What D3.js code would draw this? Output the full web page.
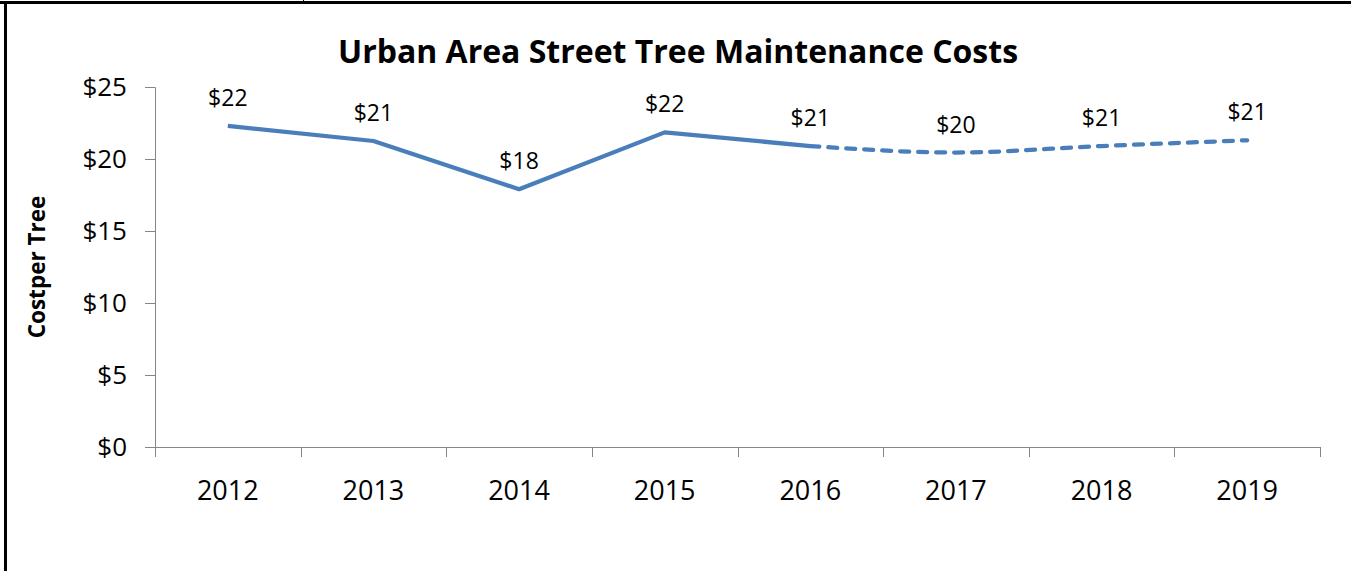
<!DOCTYPE html>
<html>
<head>
<meta charset="utf-8">
<script src="https://cdn.jsdelivr.net/npm/d3@7"></script>
<style>
  body { margin: 0; background: #fff; }
  svg { display: block; font-family: "Open Sans", "Noto Sans", sans-serif; }
</style>
</head>
<body>
<div id="chart"></div>
<script>
const years = ["2012", "2013", "2014", "2015", "2016", "2017", "2018", "2019"];
const costs = [22.3, 21.25, 17.9, 21.85, 20.9, 20.45, 20.9, 21.3];
const costLabels = ["$22", "$21", "$18", "$22", "$21", "$20", "$21", "$21"];
const yTicks = [0, 5, 10, 15, 20, 25];
const actualCount = 5; // 2012-2016 actual, rest projected

const width = 1351, height = 571;
const margin = {top: 87, right: 31, bottom: 124, left: 155};
const innerW = width - margin.left - margin.right;
const innerH = height - margin.top - margin.bottom;
const font = '"Open Sans", "Noto Sans", sans-serif';

const svg = d3.select("#chart").append("svg")
    .attr("width", width)
    .attr("height", height);

// frame lines of the surrounding document
svg.append("line").attr("x1", 0).attr("x2", width).attr("y1", 2.5).attr("y2", 2.5)
    .attr("stroke", "#000").attr("stroke-width", 3);
svg.append("line").attr("x1", 5.5).attr("x2", 5.5).attr("y1", 1).attr("y2", height)
    .attr("stroke", "#000").attr("stroke-width", 3);
svg.append("line").attr("x1", 303.5).attr("x2", 303.5).attr("y1", 0).attr("y2", 3)
    .attr("stroke", "#000").attr("stroke-width", 1);

const g = svg.append("g").attr("transform", `translate(${margin.left},${margin.top})`);

const x = d3.scaleBand().domain(years).range([0, innerW]);
const y = d3.scaleLinear().domain([0, 25]).range([innerH, 0]);

// y axis
const yAxis = d3.axisLeft(y).tickValues(yTicks).tickFormat(d => "$" + d).tickSizeOuter(0).tickSize(10).tickPadding(18);
const yg = g.append("g").call(yAxis).attr("font-family", font);
yg.select(".domain").attr("stroke", "#868686");
yg.selectAll(".tick line").attr("stroke", "#868686");
yg.selectAll(".tick text").attr("font-size", 26).attr("fill", "#000");

// x axis with ticks at category boundaries
const xg = g.append("g").attr("transform", `translate(0,${innerH})`);
xg.append("line").attr("x1", 0).attr("x2", innerW).attr("y1", 0.5).attr("y2", 0.5)
    .attr("stroke", "#868686");
const bounds = years.map(d => x(d)).concat([innerW]);
xg.selectAll("line.bnd").data(bounds).enter().append("line")
    .attr("class", "bnd")
    .attr("x1", d => Math.round(d) + 0.5).attr("x2", d => Math.round(d) + 0.5)
    .attr("y1", 0).attr("y2", 10)
    .attr("stroke", "#868686");
xg.selectAll("text").data(years).enter().append("text")
    .attr("x", d => x(d) + x.bandwidth() / 2)
    .attr("y", 53)
    .attr("text-anchor", "middle")
    .attr("font-size", 27)
    .text(d => d);

const pts = years.map((d, i) => ({year: d, value: costs[i], label: costLabels[i]}));
const cx = d => x(d.year) + x.bandwidth() / 2;

const solid = d3.line().x(cx).y(d => y(d.value));
const dashed = d3.line().x(cx).y(d => y(d.value)).curve(d3.curveMonotoneX);

g.append("path").datum(pts.slice(0, actualCount))
    .attr("d", solid)
    .attr("fill", "none")
    .attr("stroke", "#4A7EBB")
    .attr("stroke-width", 4.25)
    .attr("stroke-linejoin", "round");

g.append("path").datum(pts.slice(actualCount - 1))
    .attr("d", dashed)
    .attr("fill", "none")
    .attr("stroke", "#4A7EBB")
    .attr("stroke-width", 4.25)
    .attr("stroke-dasharray", "9,9")
    .attr("stroke-linecap", "round");

g.selectAll("text.lbl").data(pts).enter().append("text")
    .attr("class", "lbl")
    .attr("x", cx)
    .attr("y", d => y(d.value) - 20)
    .attr("text-anchor", "middle")
    .attr("font-size", 23)
    .text(d => d.label);

// title
svg.append("text")
    .attr("x", 678)
    .attr("y", 63)
    .attr("text-anchor", "middle")
    .attr("font-size", 32)
    .attr("font-weight", "bold")
    .text("Urban Area Street Tree Maintenance Costs");

// y label
svg.append("text")
    .attr("transform", `translate(45,${margin.top + innerH / 2}) rotate(-90)`)
    .attr("text-anchor", "middle")
    .attr("font-size", 22.5)
    .attr("font-weight", "bold")
    .text("Costper Tree");
</script>
</body>
</html>
